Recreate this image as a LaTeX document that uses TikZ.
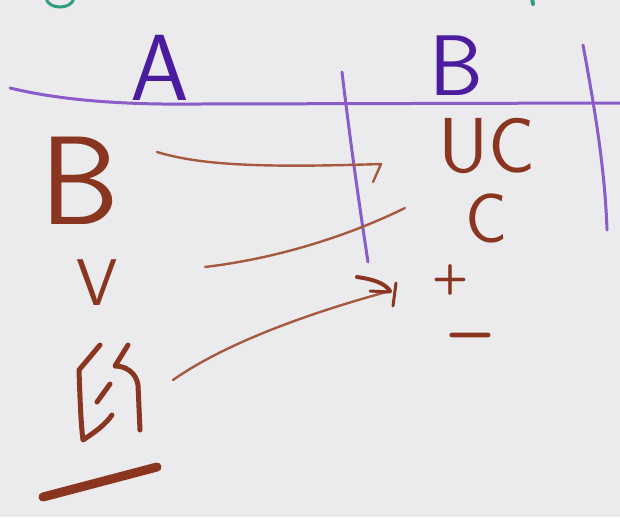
\documentclass[tikz,border=0pt]{standalone}
\usepackage{fontspec}
\definecolor{paper}{HTML}{EBEBED}
\definecolor{ink}{HTML}{4B1C9E}
\definecolor{inkline}{HTML}{8A5CC8}
\definecolor{brownink}{HTML}{8A3520}
\definecolor{brownline}{HTML}{A55A40}
\definecolor{tealink}{HTML}{2E9E7E}
\tikzset{
  hand/.style={inner sep=0pt, outer sep=0pt, anchor=base},
  purpletxt/.style={hand, text=ink},
  browntxt/.style={hand, text=brownink},
  tablerule/.style={draw=inkline, line width=3pt, line cap=round},
  conn/.style={draw=brownline, line width=2.4pt, line cap=round, line join=round},
  penstroke/.style={draw=brownink, line width=6pt, line cap=round, line join=round},
}
\newcommand{\hsz}[1]{\sffamily\fontsize{#1}{#1}\selectfont}
\begin{document}
\begin{tikzpicture}[x=1pt,y=-1pt]
\fill[paper] (0,0) rectangle (620,517);
\useasboundingbox (0,0) rectangle (620,517);
% teal traces at top edge
\draw[tealink, line width=3pt] (46,-2) .. controls (48,10) and (72,10) .. (74,-2);
\draw[tealink, line width=4pt, line cap=round] (532,-2) -- (533,4);
% headers
\node[purpletxt, font=\hsz{94}] (hA) at (160,100) {A};
\node[purpletxt, font=\hsz{86}] (hB) at (456,95) {B};
% table rules
\coordinate (rL) at (10,88);
\coordinate (rR) at (622,103);
\draw[tablerule] (rL) .. controls (60,100) and (120,105) .. (200,104) -- (rR);
\coordinate (v1t) at (342,72);
\coordinate (v1b) at (368,262);
\draw[tablerule] (v1t) .. controls (350,140) and (360,210) .. (v1b);
\coordinate (v2t) at (583,45);
\coordinate (v2b) at (607,230);
\draw[tablerule] (v2t) .. controls (595,110) and (605,170) .. (v2b);
% left column
\node[browntxt, font=\hsz{126}] (lB) at (80,224) {B};
\node[browntxt, font=\hsz{66}] (lv) at (97,305) {V};
% hand-written character (bottom left)
\draw[penstroke, line width=5pt] (100,345) -- (79,370) .. controls (80,400) and (81,425) .. (83,440) .. controls (95,432) and (105,425) .. (112,415);
\draw[penstroke, line width=5pt] (110,384) -- (97,402);
\draw[penstroke, line width=5pt] (128,345) -- (115,366) .. controls (125,366) and (136,372) .. (138,385) -- (140,430);
\draw[penstroke, line width=9pt] (43,497) -- (157,467);
% right column
\node[browntxt, font=\hsz{78}] (rUC) at (487,172) {UC};
\node[browntxt, font=\hsz{70}] (rC) at (487,242) {C};
\node[browntxt, font=\hsz{42}\bfseries, anchor=center] (rP) at (450,280) {+};
\node[browntxt, font=\hsz{56}\bfseries, anchor=center] (rM) at (470,341) {−};
% connectors
\coordinate (a1s) at (157,152);
\coordinate (a1e) at (381,164);
\draw[conn] (a1s) .. controls (200,165) and (260,168) .. (a1e) -- (373,182);
\coordinate (a2s) at (205,267);
\coordinate (a2e) at (405,208);
\draw[conn] (a2s) .. controls (280,258) and (350,235) .. (a2e);
\coordinate (a3s) at (173,380);
\coordinate (a3e) at (390,291);
\draw[conn] (a3s) .. controls (230,340) and (320,310) .. (a3e);
\draw[penstroke, line width=4pt] (357,277) .. controls (372,279) and (385,283) .. (a3e);
\draw[penstroke, line width=3pt] (370,291) -- (390,292);
\draw[penstroke, line width=3pt] (396,283) -- (393,306);
\end{tikzpicture}
\end{document}
